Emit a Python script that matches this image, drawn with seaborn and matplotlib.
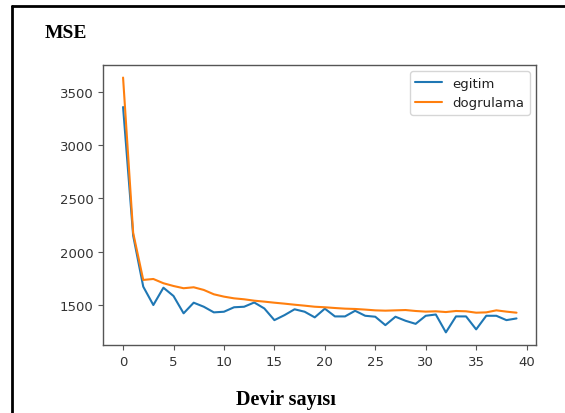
import numpy as np
import pandas as pd
import seaborn as sns
from matplotlib import pyplot as plt
from matplotlib.lines import Line2D

# epoch-wise MSE
epochs = list(range(40))
egitim = [3359, 2150, 1670, 1497, 1660, 1582, 1419, 1519, 1481, 1428,
          1434, 1476, 1481, 1521, 1465, 1355, 1402, 1457, 1434, 1381,
          1463, 1390, 1390, 1443, 1396, 1387, 1308, 1387, 1349, 1320,
          1396, 1408, 1240, 1390, 1390, 1268, 1396, 1396, 1355, 1371]
dogrulama = [3636, 2176, 1733, 1742, 1702, 1676, 1655, 1664, 1639, 1598,
             1576, 1560, 1551, 1538, 1529, 1519, 1510, 1500, 1491, 1481,
             1476, 1469, 1463, 1460, 1454, 1447, 1444, 1447, 1450, 1441,
             1435, 1438, 1431, 1441, 1438, 1425, 1428, 1447, 1435, 1425]
series_names = ['egitim', 'dogrulama']
colors = ['#1f77b4', '#ff7f0e']

df = pd.DataFrame({
    'epoch': epochs * 2,
    'mse': egitim + dogrulama,
    'set': [series_names[0]] * len(epochs) + [series_names[1]] * len(epochs),
})

sns.set_style('ticks', rc={'axes.edgecolor': '#555555',
                           'xtick.color': '#555555',
                           'ytick.color': '#555555'})
plt.rcParams['font.family'] = ['DejaVu Sans']

f = plt.figure(figsize=(5.65, 4.14), dpi=100)
ax = f.add_axes([0.183, 0.164, 0.766, 0.677])

sns.lineplot(data=df, x='epoch', y='mse', hue='set', palette=colors,
             ax=ax, linewidth=1.5, legend=False)

ax.set_xlabel('')
ax.set_ylabel('')
ax.set_xticks(np.arange(0, 41, 5))
ax.set_yticks([1500, 2000, 2500, 3000, 3500])
ax.tick_params(labelsize=9.5, labelcolor='#333333', length=3.5)
for s in ax.spines.values():
    s.set_visible(True)
    s.set_linewidth(1.0)

handles = [Line2D([], [], color=c, lw=1.5) for c in colors]
leg = ax.legend(handles, series_names, loc='upper right', fontsize=9.5,
                frameon=True, edgecolor='#cccccc')
for t in leg.get_texts():
    t.set_color('#222222')

f.text(0.079, 0.920, 'MSE', fontsize=14, fontweight='bold', color='black',
       family='Liberation Serif', va='center', ha='left')
f.text(0.506, 0.034, 'Devir sayısı', fontsize=14.5, fontweight='bold',
       color='black', family='Liberation Serif', va='center', ha='center')

# partial outer frame (top and left edges) as in the source picture
f.add_artist(Line2D([0.022, 1.0], [0.983, 0.983], transform=f.transFigure,
                    color='black', lw=2))
f.add_artist(Line2D([0.022, 0.022], [0.0, 0.983], transform=f.transFigure,
                    color='black', lw=2))

f.savefig('out.png', dpi=100)
